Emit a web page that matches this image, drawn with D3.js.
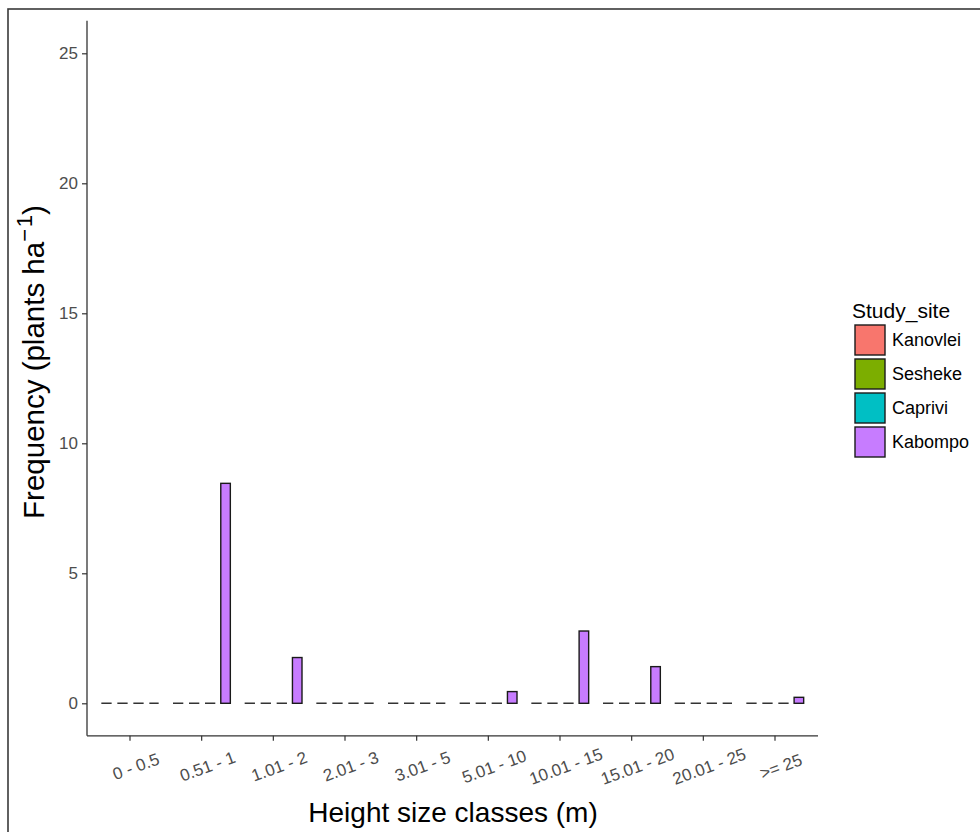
<!DOCTYPE html>
<html>
<head>
<meta charset="utf-8">
<script src="https://cdn.jsdelivr.net/npm/d3@7"></script>
<style>
  html, body { margin: 0; padding: 0; background: #fff; }
  svg { display: block; font-family: "Liberation Sans", Arial, sans-serif; }
</style>
</head>
<body>
<svg id="chart" width="980" height="832"></svg>
<script>
// Height size classes along the x axis
const categories = ["0 - 0.5", "0.51 - 1", "1.01 - 2", "2.01 - 3", "3.01 - 5",
                    "5.01 - 10", "10.01 - 15", "15.01 - 20", "20.01 - 25", ">= 25"];
// Study sites (legend order)
const sites = ["Kanovlei", "Sesheke", "Caprivi", "Kabompo"];
const siteColors = ["#F8766D", "#7CAE00", "#00BFC4", "#C77CFF"];
// Frequency (plants per ha) per site, one value per height class
const kanovlei = [0, 0, 0, 0, 0, 0, 0, 0, 0, 0];
const sesheke  = [0, 0, 0, 0, 0, 0, 0, 0, 0, 0];
const caprivi  = [0, 0, 0, 0, 0, 0, 0, 0, 0, 0];
const kabompo  = [0, 8.46, 1.76, 0, 0, 0.45, 2.78, 1.41, 0, 0.23];
const yTicks = [0, 5, 10, 15, 20, 25];

const seriesValues = [kanovlei, sesheke, caprivi, kabompo];
const rows = [];
categories.forEach((c, i) => {
  sites.forEach((s, j) => rows.push({ cat: c, site: s, value: seriesValues[j][i] }));
});

const svg = d3.select("#chart");
const FONT = "Liberation Sans, Arial, sans-serif";

// outer frame
svg.append("rect")
  .attr("x", 8).attr("y", 9).attr("width", 1100).attr("height", 1100)
  .attr("fill", "none").attr("stroke", "#3a3a3a").attr("stroke-width", 1.6);

const plot = { left: 87, right: 818, top: 20.8, bottom: 735.8 };

const x = d3.scaleBand().domain(categories)
  .range([plot.left, plot.right]).paddingInner(0).paddingOuter(0.1);
const groupW = x.bandwidth() * 0.8;
const xSub = d3.scaleBand().domain(sites).range([0, groupW]).paddingInner(0.4).paddingOuter(0);
const y = d3.scaleLinear().domain([-1.25, 26.25]).range([plot.bottom, plot.top]);
const color = d3.scaleOrdinal().domain(sites).range(siteColors);

const groupStart = c => x(c) + (x.bandwidth() - groupW) / 2;

// zero-height bars drawn as dashed baselines across each class group
const zeroCats = categories.filter(c => rows.some(r => r.cat === c && r.value === 0));
svg.append("g").selectAll("line").data(zeroCats).join("line")
  .attr("x1", c => groupStart(c))
  .attr("x2", c => groupStart(c) + groupW)
  .attr("y1", y(0)).attr("y2", y(0))
  .attr("stroke", "#333").attr("stroke-width", 1.6)
  .attr("stroke-dasharray", "10.3,5.7");

// bars
svg.append("g").selectAll("rect").data(rows.filter(r => r.value > 0)).join("rect")
  .attr("x", r => groupStart(r.cat) + xSub(r.site))
  .attr("width", xSub.bandwidth())
  .attr("y", r => y(r.value))
  .attr("height", r => y(0) - y(r.value))
  .attr("fill", r => color(r.site))
  .attr("stroke", "#1a1a1a").attr("stroke-width", 1.4);

// y axis
const yAxis = svg.append("g").attr("transform", `translate(${plot.left},0)`)
  .call(d3.axisLeft(y).tickValues(yTicks).tickSize(5).tickPadding(4).tickFormat(d3.format("d")));
yAxis.attr("font-size", null).attr("font-family", null);
yAxis.select(".domain").attr("d", `M0,${plot.top}V${plot.bottom}`).attr("stroke", "#333").attr("stroke-width", 1.3);
yAxis.selectAll(".tick line").attr("stroke", "#333").attr("stroke-width", 1.2);
yAxis.selectAll(".tick text").attr("fill", "#4d4d4d")
  .style("font-size", "17px").style("font-family", FONT);

// x axis
const xAxis = svg.append("g").attr("transform", `translate(0,${plot.bottom})`)
  .call(d3.axisBottom(x).tickSize(5).tickPadding(0));
xAxis.attr("font-size", null).attr("font-family", null);
xAxis.select(".domain").attr("d", `M${plot.left},0H${plot.right}`).attr("stroke", "#333").attr("stroke-width", 1.3);
xAxis.selectAll(".tick line").attr("stroke", "#333").attr("stroke-width", 1.2);
xAxis.selectAll(".tick text")
  .attr("fill", "#4d4d4d")
  .style("font-size", "17px").style("font-family", FONT)
  .attr("text-anchor", "middle").attr("dy", null)
  .attr("dominant-baseline", "central")
  .attr("y", 0)
  .attr("transform", "translate(6,31) rotate(-20)");

// axis titles
svg.append("text")
  .attr("x", 453).attr("y", 822)
  .attr("text-anchor", "middle").style("font-size", "28px").style("font-family", FONT).attr("fill", "#000")
  .text("Height size classes (m)");

const yTitle = svg.append("text")
  .attr("transform", `translate(44,362) rotate(-90)`)
  .attr("text-anchor", "middle").style("font-size", "29.5px").style("font-family", FONT).attr("fill", "#000");
yTitle.append("tspan").text("Frequency (plants ha");
yTitle.append("tspan").style("font-size", "22px").attr("dy", -12).text("\u2212\u200a1");
yTitle.append("tspan").attr("dy", 12).text(")");

// legend
const legend = svg.append("g").attr("transform", "translate(852,0)");
legend.append("text").attr("x", 0).attr("y", 318).style("font-size", "21px").style("font-family", FONT)
  .attr("fill", "#000").text("Study_site");
const keys = legend.selectAll("g.key").data(sites).join("g").attr("class", "key")
  .attr("transform", (d, i) => `translate(0,${323 + i * 34})`);
keys.append("rect").attr("x", 3).attr("y", 2).attr("width", 30).attr("height", 30)
  .attr("fill", d => color(d)).attr("stroke", "#1a1a1a").attr("stroke-width", 1.4);
keys.append("text").attr("x", 40).attr("y", 17).attr("dominant-baseline", "central")
  .style("font-size", "18px").style("font-family", FONT).attr("fill", "#000").text(d => d);
</script>
</body>
</html>
